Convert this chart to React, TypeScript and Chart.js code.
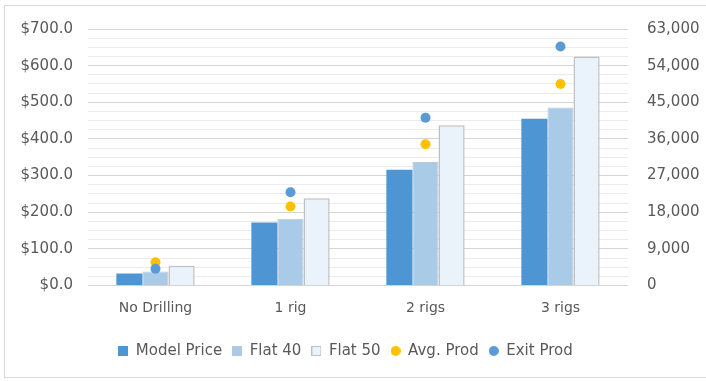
import React, { useEffect, useRef } from "react";
import { Chart, registerables } from "chart.js";

Chart.register(...registerables);

const categories = ["No Drilling", "1 rig", "2 rigs", "3 rigs"];
const modelPrice = [33, 172, 316, 455];
const flat40 = [38, 182, 337, 486];
const flat50 = [54, 238, 437, 625];
const avgProd = [5700, 19400, 34700, 49500];
const exitProd = [4100, 22900, 41200, 58700];

const TEXT = "#595959";
const FONT = "'DejaVu Sans', sans-serif";

function marker(shape: "rect" | "circle", fill: string, stroke?: string) {
  const c = document.createElement("canvas");
  c.width = 10;
  c.height = 10;
  const g = c.getContext("2d")!;
  g.fillStyle = fill;
  if (shape === "rect") {
    g.fillRect(0, 0, 10, 10);
    if (stroke) {
      g.strokeStyle = stroke;
      g.lineWidth = 1;
      g.strokeRect(0.5, 0.5, 9, 9);
    }
  } else {
    g.beginPath();
    g.arc(5, 5, 5, 0, Math.PI * 2);
    g.fill();
  }
  return c;
}

const legendShift = {
  id: "legendShift",
  afterLayout(chart: any) {
    if (chart.legend) {
      chart.legend.right -= 15;
      chart.legend.width -= 15;
    }
  },
};

export default function App() {
  const ref = useRef<HTMLCanvasElement | null>(null);

  useEffect(() => {
    if (!ref.current) return;
    const markers = [
      marker("rect", "#4E95D3"),
      marker("rect", "#A9CBE8", "#B5C9DC"),
      marker("rect", "#EAF3FC", "#BFBFBF"),
      marker("circle", "#FFC000"),
      marker("circle", "#5B9BD5"),
    ];
    const chart = new Chart(ref.current, {
      type: "bar",
      plugins: [legendShift],
      data: {
        labels: categories,
        datasets: [
          {
            type: "bar",
            label: "Model Price",
            data: modelPrice,
            backgroundColor: "#4E95D3",
            borderColor: "#4E95D3",
            borderWidth: 0,
            yAxisID: "y",
            order: 2,
          } as any,
          {
            type: "bar",
            label: "Flat 40",
            data: flat40,
            backgroundColor: "#A9CBE8",
            borderColor: "#BDC8D2",
            borderWidth: 1,
            yAxisID: "y",
            order: 2,
          },
          {
            type: "bar",
            label: "Flat 50",
            data: flat50,
            backgroundColor: "#EAF3FC",
            borderColor: "#BFBFBF",
            borderWidth: 1.5,
            yAxisID: "y",
            order: 2,
          },
          {
            type: "line",
            label: "Avg. Prod",
            data: avgProd,
            showLine: false,
            backgroundColor: "#FFC000",
            borderColor: "#FFC000",
            pointRadius: 5,
            pointBorderWidth: 0,
            yAxisID: "y1",
            order: 1,
            pointStyle: "circle",
          },
          {
            type: "line",
            label: "Exit Prod",
            data: exitProd,
            showLine: false,
            backgroundColor: "#5B9BD5",
            borderColor: "#5B9BD5",
            pointRadius: 5,
            pointBorderWidth: 0,
            yAxisID: "y1",
            order: 0,
            pointStyle: "circle",
          },
        ],
      },
      options: {
        animation: false,
        responsive: false,
        maintainAspectRatio: false,
        layout: { padding: { top: 29, left: 0, right: 0, bottom: 12.5 } },
        datasets: {
          bar: { categoryPercentage: 0.58, barPercentage: 1 },
        },
        plugins: {
          tooltip: { enabled: false },
          legend: {
            position: "bottom",
            labels: {
              usePointStyle: true,
              boxWidth: 10,
              boxHeight: 10,
              padding: 10,
              color: TEXT,
              font: { family: FONT, size: 15 },
              sort: (a: any, b: any) => a.datasetIndex - b.datasetIndex,
              generateLabels: (ch: any) => {
                const items = Chart.defaults.plugins.legend.labels.generateLabels(ch);
                return items.map((it: any) => ({ ...it, pointStyle: markers[it.datasetIndex] }));
              },
            },
          },
        },
        scales: {
          x: {
            grid: { display: false, drawTicks: false },
            border: { display: false },
            ticks: { color: TEXT, font: { family: FONT, size: 14 }, padding: 14 },
            afterFit: (s: any) => {
              s.height = 48;
            },
          },
          y: {
            position: "left",
            min: 0,
            max: 700,
            border: { display: false },
            grid: {
              drawTicks: false,
              color: (ctx: any) =>
                ctx.tick && ctx.tick.value % 100 === 0 ? "#D4D4D4" : "#EBEBEB",
            },
            ticks: {
              stepSize: 25,
              autoSkip: false,
              color: TEXT,
              font: { family: FONT, size: 15 },
              padding: 15,
              callback: (v: any) => (Number(v) % 100 === 0 ? "$" + Number(v).toFixed(1) : ""),
            },
            afterFit: (s: any) => {
              s.width = 88;
            },
          },
          y1: {
            position: "right",
            min: 0,
            max: 63000,
            border: { display: false },
            grid: { display: false, drawTicks: false },
            ticks: {
              stepSize: 9000,
              color: TEXT,
              font: { family: FONT, size: 15 },
              padding: 19,
              callback: (v: any) => Number(v).toLocaleString("en-US"),
            },
            afterFit: (s: any) => {
              s.width = 78;
            },
          },
        },
      },
    });
    return () => chart.destroy();
  }, []);

  return (
    <div style={{ position: "fixed", left: 0, top: 0, width: 706, height: 381, background: "#fff" }}>
      <div
        style={{
          position: "absolute",
          left: 4,
          top: 5,
          width: 710,
          height: 373,
          border: "1px solid #D9D9D9",
          boxSizing: "border-box",
        }}
      />
      <canvas ref={ref} width={706} height={381} style={{ position: "absolute", left: 0, top: 0 }} />
    </div>
  );
}
